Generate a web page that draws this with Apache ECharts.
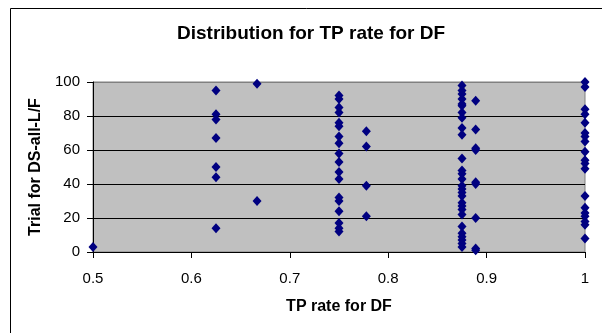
<!DOCTYPE html>
<html>
<head>
<meta charset="utf-8">
<script src="https://cdn.jsdelivr.net/npm/echarts@6/dist/echarts.min.js"></script>
<style>html,body{margin:0;padding:0;background:#fff;}#c{width:602px;height:333px;}</style>
</head>
<body>
<div id="c"></div>
<script>
// TP rate values (x) and the trials observed at each
const tpRates = [0.5, 0.625, 0.6667, 0.75, 0.7778, 0.875, 0.8889, 1];
const trials_050 = [3];
const trials_0625 = [95, 81, 78, 67, 50, 44, 14];
const trials_0667 = [99, 30];
const trials_075 = [92, 90, 85, 82, 76, 74, 68, 64, 58, 53, 47, 43, 32, 30, 24, 17, 14, 12];
const trials_0778 = [71, 62, 39, 21];
const trials_0875 = [98, 95, 93, 90, 87, 86, 82, 79, 73, 69, 55, 48, 46, 43, 39, 37, 35, 33, 29, 27, 25, 22, 15, 11, 9, 7, 5, 3];
const trials_0889 = [89, 72, 61, 60, 41, 40, 20, 2, 1];
const trials_1 = [100, 97, 84, 81, 76, 70, 68, 65, 59, 54, 52, 49, 33, 26, 23, 21, 18, 16, 8];
const xTicks = ['0.5', '0.6', '0.7', '0.8', '0.9', '1'];
const yTicks = ['0', '20', '40', '60', '80', '100'];

const groups = [trials_050, trials_0625, trials_0667, trials_075, trials_0778, trials_0875, trials_0889, trials_1];
const points = [];
groups.forEach((g, i) => g.forEach(v => points.push([tpRates[i], v])));

const chart = echarts.init(document.getElementById('c'), null, {renderer: 'canvas'});
const FF = 'Liberation Sans, Arial, sans-serif';
chart.setOption({
  animation: false,
  backgroundColor: '#fff',
  graphic: [{
    type: 'rect', left: 8, top: 6, z: 100,
    shape: {width: 640, height: 400},
    style: {fill: 'none', stroke: '#000', lineWidth: 1}
  }],
  title: {
    text: 'Distribution for TP rate for DF',
    left: 172, top: 19,
    textStyle: {fontFamily: FF, fontSize: 19, fontWeight: 'bold', color: '#000'}
  },
  grid: {
    left: 93, right: 17, top: 82, bottom: 81,
    show: true, backgroundColor: '#C0C0C0', borderColor: '#808080', borderWidth: 1
  },
  xAxis: {
    type: 'value', min: 0.5, max: 1, interval: 0.1,
    name: 'TP rate for DF', nameLocation: 'middle', nameGap: 47,
    nameTextStyle: {fontFamily: FF, fontSize: 16, fontWeight: 'bold', color: '#000'},
    axisLine: {show: true, lineStyle: {color: '#000', width: 1}},
    axisTick: {show: true, inside: false, length: 6, lineStyle: {color: '#000'}},
    axisLabel: {
      fontFamily: FF, fontSize: 15, color: '#000', margin: 19,
      formatter: v => xTicks[Math.round((v - 0.5) * 10)]
    },
    splitLine: {show: false}
  },
  yAxis: {
    type: 'value', min: 0, max: 100, interval: 20,
    name: 'Trial for DS-all-L/F', nameLocation: 'middle', nameGap: 46,
    nameTextStyle: {fontFamily: FF, fontSize: 16, fontWeight: 'bold', color: '#000'},
    axisLine: {show: true, lineStyle: {color: '#000', width: 1}},
    axisTick: {show: true, inside: false, length: 6, lineStyle: {color: '#000'}},
    axisLabel: {
      fontFamily: FF, fontSize: 15, color: '#000', margin: 13,
      formatter: v => yTicks[Math.round(v / 20)]
    },
    splitLine: {show: true, lineStyle: {color: ['#000', '#000', '#000', '#000', '#000', '#808080'], width: 1}}
  },
  series: [{
    type: 'scatter',
    data: points,
    symbol: 'diamond',
    symbolSize: [9, 10],
    itemStyle: {color: '#000080', opacity: 1}
  }]
});
</script>
</body>
</html>
